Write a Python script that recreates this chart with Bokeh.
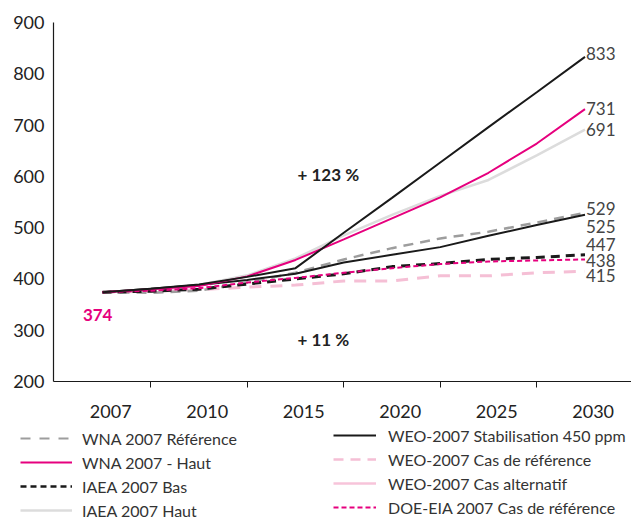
import numpy as np
from bokeh.plotting import figure
from bokeh.layouts import column
from bokeh.models import (Range1d, FixedTicker, CustomJSTickFormatter, Legend,
                          LegendItem, SingleIntervalTicker)
from bokeh.core.properties import value
from bokeh.embed import file_html
from bokeh.resources import INLINE

# ---- data -------------------------------------------------------------
x_labels = ["2007", "2010", "2015", "2020", "2025", "2030"]
tick_years = [2007, 2010, 2015, 2020, 2025, 2030]
years = [2007, 2008.5, 2010, 2012.5, 2015, 2017.5, 2020, 2022.5, 2025, 2027.5, 2030]

wna_ref   = [374, 373, 377, 393, 412, 438, 460, 479, 492, 510, 529]
wna_high  = [374, 380, 386, 405, 437, 477, 518, 559, 607, 664, 731]
iaea_low  = [374, 376, 380, 390, 400, 410, 424, 430, 438, 442, 447]
iaea_high = [374, 380, 388, 407, 440, 485, 525, 562, 593, 641, 691]
weo_450   = [374, 381, 389, 404, 421, 490, 558, 627, 696, 764, 833]
weo_ref   = [374, 376, 379, 384, 388, 396, 396, 406, 406, 412, 415]
weo_alt   = [374, 381, 388, 398, 410, 432, 447, 462, 484, 505, 525]
doe_ref   = [374, 377, 382, 393, 402, 412, 421, 429, 434, 436, 438]

start_value = 374
notes = ["+ 123 %", "+ 11 %"]
note_y = [603, 281]
end_label_y = [839, 732, 692, 538, 502, 468, 436, 407]

# map years onto the evenly spaced category axis
xs = list(np.interp(years, tick_years, range(len(tick_years))))

FONT = "Lato"
DARK = "#1a1a1a"
MAGENTA = "#e6007e"

styles = {
    "wna_ref":   dict(line_color="#9d9d9d", line_width=2.5, line_dash="10 7"),
    "wna_high":  dict(line_color=MAGENTA, line_width=2),
    "iaea_low":  dict(line_color=DARK, line_width=3, line_dash="9 6"),
    "iaea_high": dict(line_color="#dcdcdc", line_width=2.5),
    "weo_450":   dict(line_color=DARK, line_width=2),
    "weo_ref":   dict(line_color="#f5bfd5", line_width=3, line_dash="12 9"),
    "weo_alt":   dict(line_color=DARK, line_width=2),
    "doe_ref":   dict(line_color=MAGENTA, line_width=2, line_dash="5 3"),
}

p = figure(width=631, height=420, output_backend="svg", toolbar_location=None,
           x_range=Range1d(-0.508, 5.482), y_range=Range1d(200, 900),
           min_border_left=53, min_border_right=0, min_border_top=22,
           min_border_bottom=37)
p.frame_align = False
p.outline_line_color = None
p.xgrid.visible = False
p.ygrid.visible = False

# axes
p.xaxis.ticker = FixedTicker(ticks=[i + 0.085 for i in range(6)],
                             minor_ticks=[0.5, 1.5, 2.5, 3.5, 4.5])
p.xaxis.formatter = CustomJSTickFormatter(args=dict(labels=x_labels),
                                          code="return labels[Math.round(tick)];")
p.xaxis.major_tick_in = 0
p.xaxis.major_tick_out = 0
p.xaxis.minor_tick_line_color = DARK
p.xaxis.minor_tick_in = 0
p.xaxis.minor_tick_out = 6
p.xaxis.major_label_standoff = 17

p.yaxis.ticker = SingleIntervalTicker(interval=100)
p.yaxis.minor_tick_line_color = None
p.yaxis.major_tick_in = 0
p.yaxis.major_tick_out = 5
p.yaxis.major_label_standoff = 4

for ax in (p.xaxis, p.yaxis):
    ax.axis_line_color = DARK
    ax.axis_line_width = 1.2
    ax.major_tick_line_color = DARK if ax is p.yaxis else None
    ax.major_label_text_font = FONT
    ax.major_label_text_font_size = "18px"
    ax.major_label_text_color = "#222222"

# series (light lines first)
p.line(xs, iaea_high, **styles["iaea_high"])
p.line(xs, weo_ref, **styles["weo_ref"])
p.line(xs, wna_ref, **styles["wna_ref"])
p.line(xs, weo_alt, **styles["weo_alt"])
p.line(xs, iaea_low, **styles["iaea_low"])
p.line(xs, doe_ref, **styles["doe_ref"])
p.line(xs, wna_high, **styles["wna_high"])
p.line(xs, weo_450, **styles["weo_450"])

# end-of-line value labels
ends = [weo_450, wna_high, iaea_high, wna_ref, weo_alt, iaea_low, doe_ref, weo_ref]
p.text(x=[xs[-1] + 0.01] * len(ends), y=end_label_y,
       text=[str(s[-1]) for s in ends],
       text_font=value(FONT), text_font_size=value("17px"),
       text_color="#444444", text_align="left", text_baseline="middle")

# annotations
p.text(x=[2.02, 2.02], y=note_y, text=notes, text_font=value(FONT),
       text_font_size=value("17px"), text_font_style="bold",
       text_color="#222222", text_align="left", text_baseline="middle")
p.text(x=[xs[0] - 0.05], y=[330], text=[str(start_value)], text_font=value(FONT),
       text_font_size=value("17px"), text_font_style="bold",
       text_color=MAGENTA, text_align="center", text_baseline="middle")

# ---- legend panel ---------------------------------------------------------
lg = figure(width=631, height=100, output_backend="svg", toolbar_location=None,
            x_range=Range1d(0, 1), y_range=Range1d(0, 1),
            x_axis_type=None, y_axis_type=None,
            min_border_left=0, min_border_right=0, min_border_top=0,
            min_border_bottom=0)
lg.frame_align = False
lg.outline_line_color = None
lg.xgrid.visible = False
lg.ygrid.visible = False

legend_styles = dict(styles)
legend_styles["weo_alt"] = dict(line_color="#f7c4da", line_width=2.5)
legend_styles["iaea_low"] = dict(line_color=DARK, line_width=2.5, line_dash="6 4")
legend_styles["wna_ref"] = dict(line_color="#9d9d9d", line_width=2, line_dash="10 9")
legend_styles["weo_ref"] = dict(line_color="#f5bfd5", line_width=2.5, line_dash="10 7")
# swatch renderers: data lies outside the visible range, only the legend shows them
sw = {k: lg.line([5, 6], [5, 6], **v) for k, v in legend_styles.items()}

common = dict(orientation="vertical", glyph_height=20, label_height=20, spacing=4,
              padding=0, margin=0, label_text_font=FONT,
              label_text_font_size="16px", label_text_color="#333333",
              background_fill_alpha=0, border_line_color=None)

leg1 = Legend(items=[
    LegendItem(label="WNA 2007 Référence", renderers=[sw["wna_ref"]]),
    LegendItem(label="WNA 2007 - Haut", renderers=[sw["wna_high"]]),
    LegendItem(label="IAEA 2007 Bas", renderers=[sw["iaea_low"]]),
    LegendItem(label="IAEA 2007 Haut", renderers=[sw["iaea_high"]]),
], location=(20, 0), glyph_width=52, label_standoff=10, **common)

leg2 = Legend(items=[
    LegendItem(label="WEO-2007 Stabilisation 450 ppm", renderers=[sw["weo_450"]]),
    LegendItem(label="WEO-2007 Cas de référence", renderers=[sw["weo_ref"]]),
    LegendItem(label="WEO-2007 Cas alternatif", renderers=[sw["weo_alt"]]),
    LegendItem(label="DOE-EIA 2007 Cas de référence", renderers=[sw["doe_ref"]]),
], location=(333, 3), glyph_width=43, label_standoff=12, **common)

lg.add_layout(leg1)
lg.add_layout(leg2)

layout = column(p, lg, spacing=0)
open("out.html", "w").write(file_html(layout, INLINE))
